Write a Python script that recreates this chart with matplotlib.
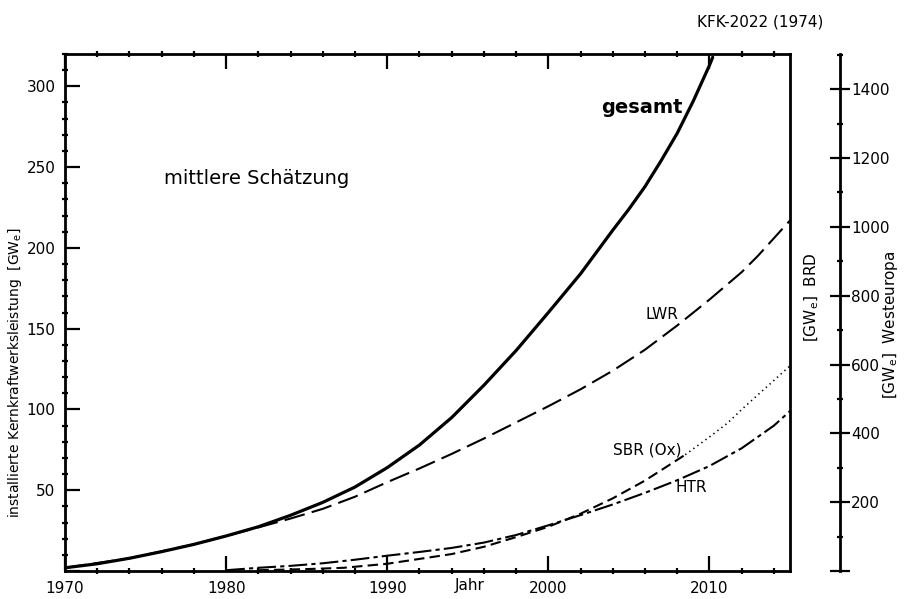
import matplotlib
matplotlib.use('Agg')
import matplotlib.pyplot as plt
from matplotlib.ticker import MultipleLocator, FixedLocator, FixedFormatter

plt.rcParams['font.family'] = ['DejaVu Sans']

# Werte (GWe, BRD)
jahre_gesamt = [1970, 1972, 1974, 1976, 1978, 1980, 1982, 1984, 1986, 1988, 1990,
                1992, 1994, 1996, 1998, 2000, 2002, 2004, 2005, 2006, 2007, 2008,
                2009, 2010, 2010.2]
gesamt = [2, 4.5, 7.9, 12, 16.5, 21.7, 27.4, 34.5, 42.5, 52, 64,
          78, 95, 115, 136.5, 160, 184, 211, 224, 238, 254, 271,
          291, 313, 318]

jahre_lwr = [1970, 1974, 1978, 1980, 1982, 1984, 1986, 1988, 1990, 1992, 1994,
             1996, 1998, 2000, 2002, 2004, 2006, 2008, 2010, 2012, 2013, 2014, 2015]
lwr = [2, 7.9, 16.5, 21.7, 27, 32.5, 38.5, 46, 55, 63.5, 72.5,
       82, 92, 102, 112.5, 124, 137, 152, 168, 185, 195, 206, 217]

jahre_sbr = [1982, 1985, 1987.3, 1990, 1992, 1994, 1996, 1998, 2000, 2002, 2004,
             2006, 2008.5]
sbr = [0.5, 1.2, 2, 4.5, 7.5, 10.5, 15, 21, 27.4, 35.5, 45, 56, 72]
jahre_sbr_pkt = [2008.5, 2010, 2011.1, 2012, 2013, 2014, 2015]
sbr_pkt = [72, 83, 91.4, 100, 109, 118, 127]

jahre_htr = [1980, 1982, 1984, 1986, 1988, 1990, 1992, 1994, 1996, 1998, 2000,
             2002, 2004, 2006, 2008, 2010, 2012, 2014, 2015]
htr = [0.5, 2, 3.2, 4.8, 7, 9.5, 11.8, 14.3, 17.6, 22.3, 28.3,
       34.6, 41.2, 48.4, 56.2, 65, 76, 90, 99]

x_major = [1970, 1980, 1990, 2000, 2010]
y_major = [0, 50, 100, 150, 200, 250, 300]
y_labels = ['', '50', '100', '150', '200', '250', '300']
we_major = [0, 200, 400, 600, 800, 1000, 1200, 1400]
we_labels = ['', '200', '400', '600', '800', '1000', '1200', '1400']

fig = plt.figure(figsize=(9.11, 5.99), dpi=100)
ax = fig.add_axes([0.0714, 0.0467, 0.7958, 0.8631])

ax.plot(jahre_gesamt, gesamt, color='black', lw=2.3, solid_capstyle='round')
ax.plot(jahre_lwr, lwr, color='black', lw=1.5, dashes=(10, 3.5))
ax.plot(jahre_sbr, sbr, color='black', lw=1.5, dashes=(5, 2.5))
ax.plot(jahre_sbr_pkt, sbr_pkt, color='black', lw=1.2, dashes=(0.8, 2.2))
ax.plot(jahre_htr, htr, color='black', lw=1.5, dashes=(9, 2, 2, 2))

ax.set_xlim(1970, 2015)
ax.set_ylim(0, 320)

for s in ax.spines.values():
    s.set_linewidth(2)

ax.xaxis.set_major_locator(FixedLocator(x_major))
ax.xaxis.set_minor_locator(MultipleLocator(2))
ax.yaxis.set_major_locator(FixedLocator(y_major))
ax.yaxis.set_major_formatter(FixedFormatter(y_labels))
ax.yaxis.set_minor_locator(MultipleLocator(10))
ax.tick_params(which='major', direction='in', length=11, width=1.6,
               top=True, right=True, labelsize=11, pad=7)
ax.tick_params(which='minor', direction='inout', length=5, width=1.6,
               top=True, right=True)

ax.text(1995.1, -0.014, 'Jahr', transform=ax.get_xaxis_transform(),
        ha='center', va='top', fontsize=11)

ax.text(1981.9, 243, 'mittlere Schätzung', ha='center', va='center', fontsize=14)
ax.text(2005.8, 287, 'gesamt', ha='center', va='center', fontsize=14,
        fontweight='bold')
ax.text(2007.06, 158.5, 'LWR', ha='center', va='center', fontsize=11)
ax.text(2006.15, 75, 'SBR (Ox)', ha='center', va='center', fontsize=11)
ax.text(2008.9, 51.4, 'HTR', ha='center', va='center', fontsize=11)

ax.text(-0.069, 0.383, r'installierte Kernkraftwerksleistung  [GW$_\mathrm{e}$]',
        transform=ax.transAxes, rotation=90, ha='center', va='center', fontsize=10)
ax.text(1.030, 0.53, r'[GW$_\mathrm{e}$]  BRD', transform=ax.transAxes,
        rotation=90, ha='center', va='center', fontsize=11)
ax.text(1.138, 0.476, r'[GW$_\mathrm{e}$]  Westeuropa', transform=ax.transAxes,
        rotation=90, ha='center', va='center', fontsize=11)

# zweite Skala Westeuropa
ax2 = ax.twinx()
ax2.set_ylim(0, 1502)
for k in ['left', 'top', 'bottom']:
    ax2.spines[k].set_visible(False)
ax2.spines['right'].set_position(('axes', 1.069))
ax2.spines['right'].set_linewidth(2)
ax2.yaxis.set_major_locator(FixedLocator(we_major))
ax2.yaxis.set_major_formatter(FixedFormatter(we_labels))
ax2.yaxis.set_minor_locator(FixedLocator([100, 300, 500, 700, 900, 1100, 1300, 1500]))
ax2.tick_params(which='major', direction='inout', length=14, width=1.6,
                labelsize=11, pad=1)
ax2.tick_params(which='minor', direction='inout', length=5, width=1.6)

fig.text(0.835, 0.964, 'KFK-2022 (1974)', ha='center', va='center', fontsize=11)

plt.savefig('out.png', dpi=100)
